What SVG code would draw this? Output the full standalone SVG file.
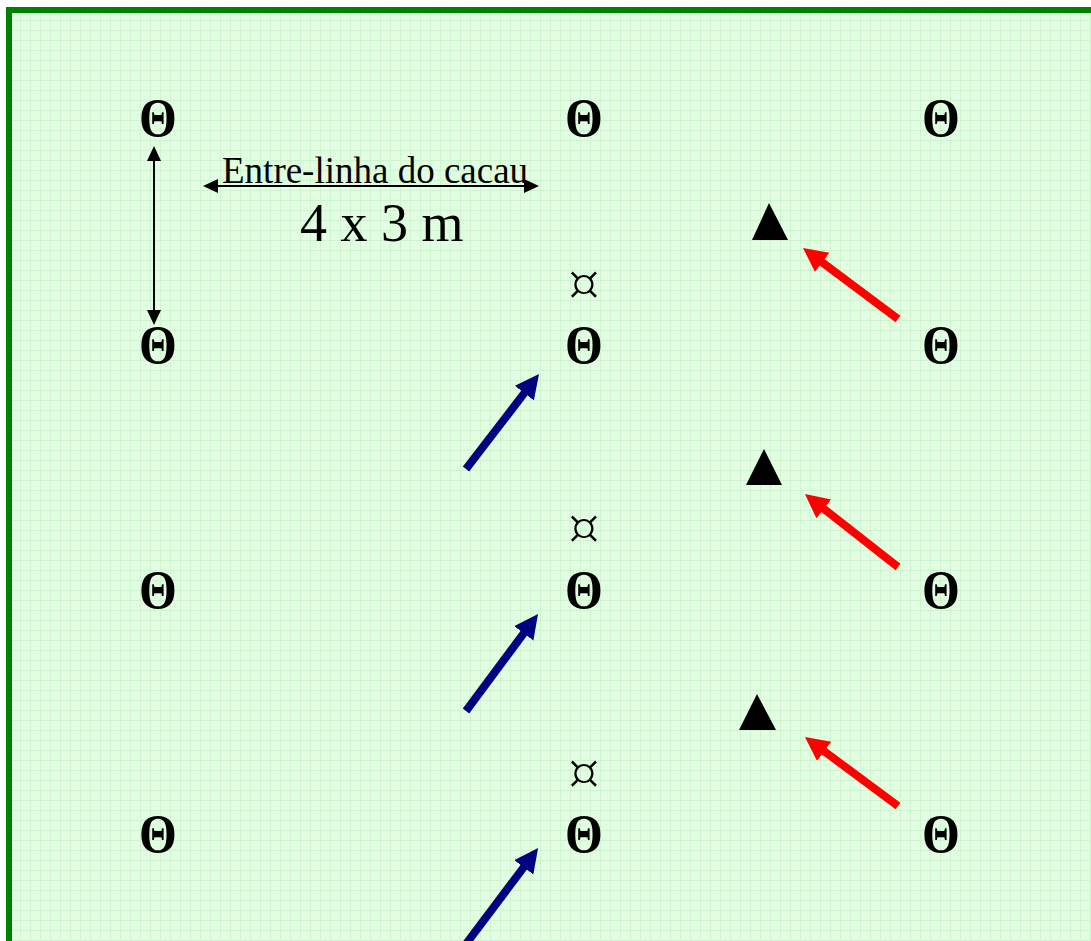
<svg xmlns="http://www.w3.org/2000/svg" width="1091" height="941" viewBox="0 0 1091 941">
<style>
.th{font-family:"Liberation Serif","Times New Roman",serif;font-weight:bold;font-size:54px;text-anchor:middle;fill:#000}
.cur{font-family:"DejaVu Sans",sans-serif;font-weight:200;font-size:50px;text-anchor:middle;fill:#000}
.lbl{font-family:"Liberation Serif","Times New Roman",serif;fill:#000}
.red{stroke:#ff0000;stroke-width:8;fill:none}
.blue{stroke:#000080;stroke-width:8;fill:none}
.dim{stroke:#000;stroke-width:2;fill:none}
</style>
<defs>
<pattern id="grid" x="0" y="0" width="10" height="10" patternUnits="userSpaceOnUse">
<rect width="10" height="10" fill="#e3fde3"/>
<path d="M0,0.5H10M0.5,0V10" stroke="#cdf5cd" stroke-width="1"/>
</pattern>
<marker id="hr" markerUnits="userSpaceOnUse" markerWidth="30" markerHeight="30" refX="4" refY="12" orient="auto"><path d="M0,0L24,12L0,24Z" fill="#ff0000"/></marker>
<marker id="hb" markerUnits="userSpaceOnUse" markerWidth="30" markerHeight="30" refX="4" refY="12" orient="auto"><path d="M0,0L24,12L0,24Z" fill="#000080"/></marker>
<marker id="hk" markerUnits="userSpaceOnUse" markerWidth="20" markerHeight="20" refX="4" refY="7" orient="auto-start-reverse"><path d="M0,0L15,7L0,14Z" fill="#000"/></marker>
</defs>
<rect x="9" y="10" width="1085" height="935" fill="url(#grid)" stroke="#008000" stroke-width="6"/>

<g id="plants">
<text class="th" transform="translate(158,136) scale(0.9,1)">Θ</text>
<text class="th" transform="translate(584,136) scale(0.9,1)">Θ</text>
<text class="th" transform="translate(941,136) scale(0.9,1)">Θ</text>
<text class="th" transform="translate(158,363) scale(0.9,1)">Θ</text>
<text class="th" transform="translate(584,363) scale(0.9,1)">Θ</text>
<text class="th" transform="translate(941,363) scale(0.9,1)">Θ</text>
<text class="th" transform="translate(158,608) scale(0.9,1)">Θ</text>
<text class="th" transform="translate(584,608) scale(0.9,1)">Θ</text>
<text class="th" transform="translate(941,608) scale(0.9,1)">Θ</text>
<text class="th" transform="translate(158,852) scale(0.9,1)">Θ</text>
<text class="th" transform="translate(584,852) scale(0.9,1)">Θ</text>
<text class="th" transform="translate(941,852) scale(0.9,1)">Θ</text>
</g>
<g id="currency">
<text class="cur" x="584" y="300">¤</text>
<text class="cur" x="584" y="544">¤</text>
<text class="cur" x="584" y="789">¤</text>
</g>
<g id="triangles" fill="#000">
<polygon points="769,203 752,240 788,240"/>
<polygon points="764,449 746,485 782,485"/>
<polygon points="757,694 739,730 776,730"/>
</g>
<g id="labels">
<text class="lbl" x="222" y="183" font-size="37">Entre-linha do cacau</text>
<text class="lbl" x="300" y="241" font-size="54">4 x 3 m</text>
</g>
<g id="connectors">
<line class="dim" x1="154" y1="157" x2="154" y2="314" marker-start="url(#hk)" marker-end="url(#hk)"/>
<line class="dim" x1="214" y1="186" x2="528" y2="186" marker-start="url(#hk)" marker-end="url(#hk)"/>
<line class="red" x1="898" y1="319" x2="819" y2="260" marker-end="url(#hr)"/>
<line class="red" x1="898" y1="567" x2="820.7" y2="506.4" marker-end="url(#hr)"/>
<line class="red" x1="898" y1="806" x2="821" y2="748.9" marker-end="url(#hr)"/>
<line class="blue" x1="466" y1="469" x2="526.8" y2="389.9" marker-end="url(#hb)"/>
<line class="blue" x1="466" y1="711" x2="526.1" y2="630.1" marker-end="url(#hb)"/>
<line class="blue" x1="466" y1="944" x2="526.1" y2="864.1" marker-end="url(#hb)"/>
</g>
</svg>
